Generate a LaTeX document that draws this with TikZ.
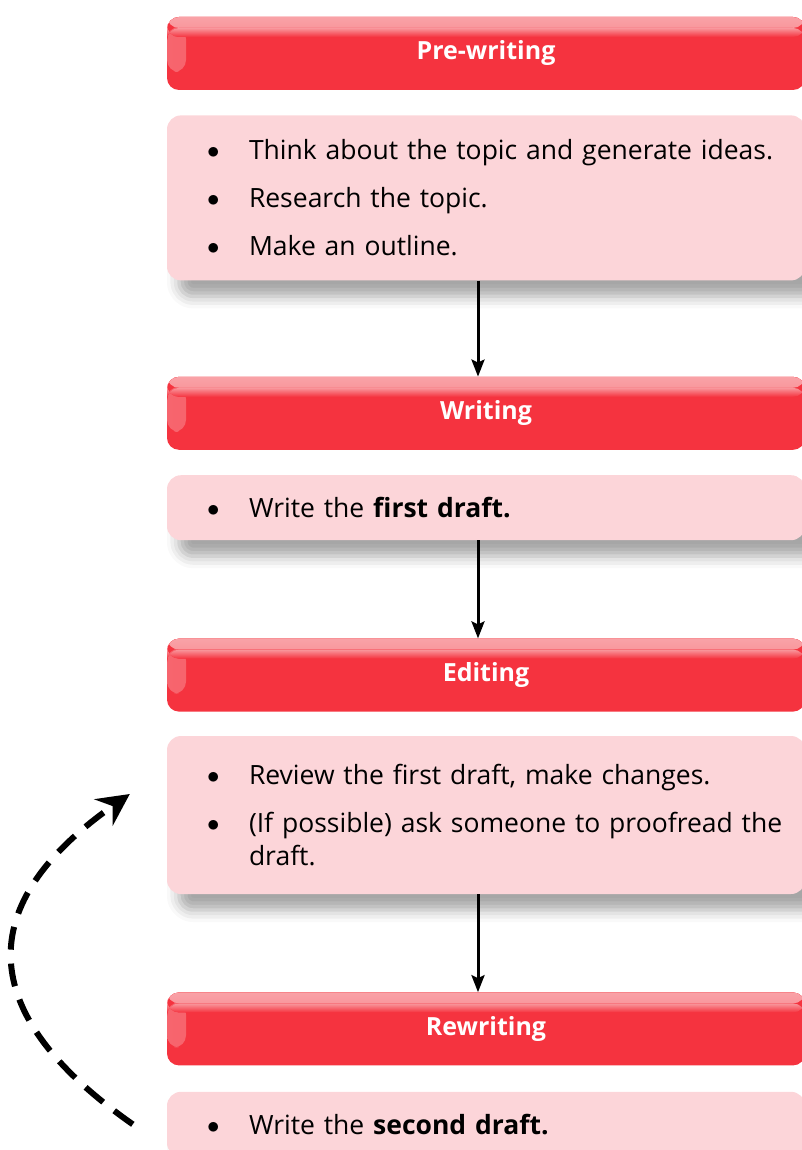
\documentclass[tikz,border=0pt]{standalone}
\usepackage{fontspec}
\setmainfont{Open Sans}
\usetikzlibrary{positioning,arrows.meta,shadows.blur}

\definecolor{headred}{RGB}{245,51,63}
\definecolor{headgloss}{RGB}{249,162,167}
\definecolor{bodypink}{RGB}{252,213,217}

\newif\iffirststep
\newcommand\stepitem[1]{\iffirststep\global\firststepfalse\else\par\vspace{15pt}\fi
  \noindent\makebox[66pt][l]{\hspace{24pt}\raisebox{1pt}{$\bullet$}}%
  \parbox[t]{540pt}{\raggedright #1}}

\tikzset{
  stagehead/.style={rounded corners=12pt, fill=headred, minimum width=638pt,
    minimum height=73pt, text=white, font=\bfseries\fontsize{25}{30}\selectfont,
    path picture={
      \fill[left color=headgloss!45!headred, right color=headred]
        ([yshift=-10pt]path picture bounding box.north west) rectangle
        ([xshift=19pt,yshift=18pt]path picture bounding box.south west);
      \fill[top color=headgloss, bottom color=headgloss!90!headred]
        (path picture bounding box.north west) rectangle
        ([yshift=-11pt]path picture bounding box.north east);
      \fill[top color=headgloss!90!headred, bottom color=headred]
        ([yshift=-11pt]path picture bounding box.north west) rectangle
        ([yshift=-20pt]path picture bounding box.north east);
    }},
  stagebody/.style={rounded corners=14pt, fill=bodypink, minimum width=638pt,
    text width=606pt, inner xsep=16pt,
    font=\fontsize{26.5}{33}\selectfont\global\firststeptrue,
    blur shadow={shadow xshift=12pt, shadow yshift=-16pt,
      shadow blur radius=12pt, shadow opacity=35}},
  flowarrow/.style={line width=3pt, -{Stealth[length=17pt,width=13pt,inset=3pt]}},
  backarrow/.style={line width=6pt, dash pattern=on 23pt off 14pt,
    -{Stealth[length=32pt,width=32pt,inset=11pt]}}
}

\begin{document}
\begin{tikzpicture}
\useasboundingbox (0,0) rectangle (801pt,-1150pt);

\node[stagehead] (hdrA) at (486pt,-53.5pt) {Pre-writing};
\node[stagebody, minimum height=165pt, below=25pt of hdrA] (txtA)
  {\stepitem{Think about the topic and generate ideas.}
   \stepitem{Research the topic.}
   \stepitem{Make an outline.}};

\node[stagehead, below=96pt of txtA] (hdrB) {Writing};
\node[stagebody, minimum height=65pt, below=25pt of hdrB] (txtB)
  {\stepitem{Write the \textbf{first draft.}}};

\node[stagehead, below=98pt of txtB] (hdrC) {Editing};
\node[stagebody, minimum height=158pt, below=24pt of hdrC] (txtC)
  {\stepitem{Review the first draft, make changes.}
   \stepitem{(If possible) ask someone to proofread the\\draft.}};

\node[stagehead, below=98pt of txtC] (hdrD) {Rewriting};
\node[stagebody, minimum height=65pt, below=26pt of hdrD] (txtD)
  {\stepitem{Write the \textbf{second draft.}}};

\draw[flowarrow] ([xshift=-8pt]txtA.south) -- ([xshift=-8pt]hdrB.north);
\draw[flowarrow] ([xshift=-8pt]txtB.south) -- ([xshift=-8pt]hdrC.north);
\draw[flowarrow] ([xshift=-8pt]txtC.south) -- ([xshift=-8pt]hdrD.north);

\coordinate (loopStart) at ([xshift=-34pt]txtD.west);
\coordinate (loopEnd) at ([xshift=-37pt,yshift=21pt]txtC.west);
\draw[backarrow] (loopStart) .. controls +(145:195pt) and +(215:191pt) .. (loopEnd);
\end{tikzpicture}
\end{document}
